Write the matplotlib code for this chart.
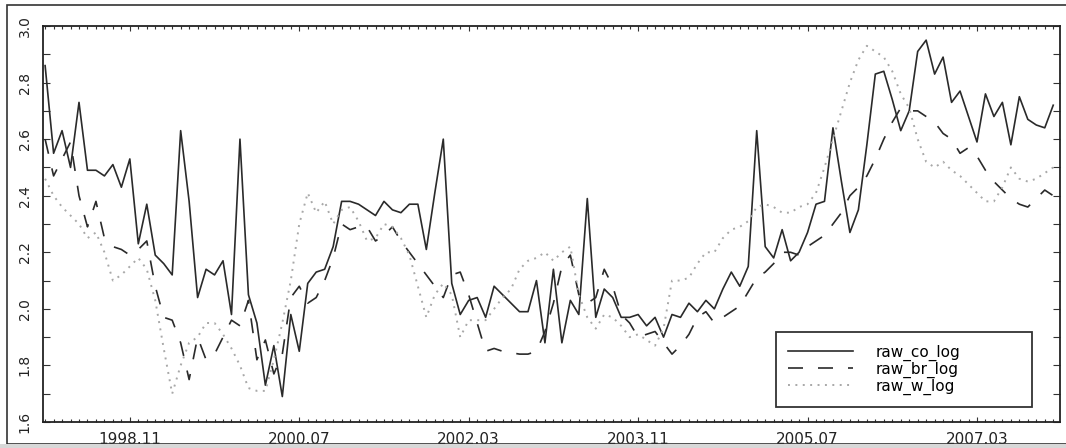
import numpy as np
import matplotlib
matplotlib.use("Agg")
import matplotlib.pyplot as plt
from matplotlib.ticker import MultipleLocator, FixedLocator
from matplotlib.patches import Rectangle

# monthly series, 1998.01 .. 2007.12
raw_co_log = [
    2.86, 2.55, 2.63, 2.50, 2.73, 2.49, 2.49, 2.47, 2.51, 2.43,
    2.53, 2.23, 2.37, 2.19, 2.16, 2.12, 2.63, 2.38, 2.04, 2.14,
    2.12, 2.17, 1.98, 2.60, 2.05, 1.95, 1.73, 1.87, 1.69, 1.98,
    1.85, 2.09, 2.13, 2.14, 2.22, 2.38, 2.38, 2.37, 2.35, 2.33,
    2.38, 2.35, 2.34, 2.37, 2.37, 2.21, 2.41, 2.60, 2.09, 1.98,
    2.03, 2.04, 1.97, 2.08, 2.05, 2.02, 1.99, 1.99, 2.10, 1.88,
    2.14, 1.88, 2.03, 1.98, 2.39, 1.97, 2.07, 2.04, 1.97, 1.97,
    1.98, 1.94, 1.97, 1.90, 1.98, 1.97, 2.02, 1.99, 2.03, 2.00,
    2.07, 2.13, 2.08, 2.15, 2.63, 2.22, 2.18, 2.28, 2.17, 2.20,
    2.27, 2.37, 2.38, 2.64, 2.45, 2.27, 2.35, 2.58, 2.83, 2.84,
    2.74, 2.63, 2.70, 2.91, 2.95, 2.83, 2.89, 2.73, 2.77, 2.68,
    2.59, 2.76, 2.68, 2.73, 2.58, 2.75, 2.67, 2.65, 2.64, 2.72,
]
raw_br_log = [
    2.60, 2.47, 2.53, 2.59, 2.40, 2.29, 2.38, 2.25, 2.22, 2.21,
    2.19, 2.21, 2.24, 2.08, 1.97, 1.96, 1.88, 1.75, 1.90, 1.82,
    1.84, 1.90, 1.96, 1.94, 2.03, 1.82, 1.89, 1.77, 1.84, 2.04,
    2.08, 2.02, 2.04, 2.10, 2.18, 2.30, 2.28, 2.29, 2.29, 2.24,
    2.26, 2.29, 2.24, 2.20, 2.16, 2.12, 2.08, 2.04, 2.12, 2.13,
    2.05, 1.95, 1.85, 1.86, 1.85, 1.845, 1.84, 1.84, 1.85, 1.92,
    2.02, 2.15, 2.19, 2.05, 2.02, 2.04, 2.14, 2.08, 1.98, 1.95,
    1.90, 1.91, 1.92, 1.88, 1.84, 1.87, 1.91, 1.97, 1.99, 1.95,
    1.97, 1.99, 2.01, 2.06, 2.11, 2.13, 2.16, 2.20, 2.20, 2.19,
    2.22, 2.24, 2.26, 2.30, 2.34, 2.40, 2.43, 2.47, 2.53, 2.60,
    2.66, 2.71, 2.70, 2.70, 2.68, 2.66, 2.62, 2.60, 2.55, 2.57,
    2.54, 2.49, 2.45, 2.42, 2.39, 2.37, 2.36, 2.39, 2.42, 2.40,
]
raw_w_log = [
    2.46, 2.40, 2.36, 2.33, 2.30, 2.25, 2.27, 2.20, 2.10, 2.12,
    2.15, 2.18, 2.14, 2.03, 1.86, 1.70, 1.80, 1.88, 1.90, 1.95,
    1.95, 1.91, 1.86, 1.80, 1.72, 1.71, 1.71, 1.82, 1.95, 2.10,
    2.30, 2.41, 2.34, 2.38, 2.30, 2.35, 2.36, 2.31, 2.24, 2.25,
    2.30, 2.29, 2.25, 2.19, 2.08, 1.97, 2.05, 2.09, 2.05, 1.90,
    1.96, 1.96, 1.96, 2.00, 2.04, 2.07, 2.14, 2.17, 2.18, 2.20,
    2.17, 2.20, 2.22, 2.05, 1.97, 1.93, 1.98, 1.97, 1.94, 1.90,
    1.91, 1.89, 1.87, 1.93, 2.10, 2.10, 2.11, 2.16, 2.20, 2.20,
    2.25, 2.28, 2.29, 2.31, 2.36, 2.37, 2.36, 2.34, 2.34, 2.36,
    2.37, 2.41, 2.50, 2.60, 2.70, 2.80, 2.88, 2.93, 2.91, 2.89,
    2.84, 2.76, 2.71, 2.60, 2.52, 2.50, 2.52, 2.49, 2.47, 2.44,
    2.41, 2.38, 2.38, 2.43, 2.50, 2.46, 2.45, 2.46, 2.48, 2.50,
]

tick_months = [10, 30, 50, 70, 90, 110]
tick_labels = ["1998.11", "2000.07", "2002.03", "2003.11", "2005.07", "2007.03"]
y_ticks = [1.6, 1.8, 2.0, 2.2, 2.4, 2.6, 2.8, 3.0]

W, H = 1066, 448
fig = plt.figure(figsize=(W / 100, H / 100), dpi=100)
fig.patch.set_facecolor("white")

# outer frame of the original screenshot
fig.patches.append(Rectangle((7 / W, 1 - 444 / H), 1.0, 439 / H, transform=fig.transFigure,
                             fill=False, edgecolor="#333333", linewidth=1.2))
fig.patches.append(Rectangle((0, 0), 1.0, 4 / H, transform=fig.transFigure,
                             facecolor="#d8d8d8", edgecolor="none"))

ax = fig.add_axes([43 / W, 1 - 422 / H, (1060 - 43) / W, 396 / H])

x = np.arange(len(raw_co_log))
ax.plot(x, raw_co_log, color="#2a2a2a", linewidth=1.2, label="raw_co_log")
ax.plot(x, raw_br_log, color="#2a2a2a", linewidth=1.2, linestyle=(0, (9, 9)),
        label="raw_br_log")
ax.plot(x, raw_w_log, color="#a8a8a8", linewidth=1.4, linestyle=(0, (1, 2.8)),
        label="raw_w_log")

ax.set_xlim(-0.25, 119.8)
ax.set_ylim(1.6, 3.0)

ax.xaxis.set_major_locator(FixedLocator(tick_months))
ax.set_xticklabels(tick_labels, fontsize=11, color="#222222")
ax.xaxis.set_minor_locator(MultipleLocator(1))
ax.set_yticks(y_ticks)
ax.set_yticklabels([f"{v:.1f}" for v in y_ticks], rotation=90, va="center",
                   fontsize=10, color="#222222")
ax.yaxis.set_minor_locator(MultipleLocator(0.1))

ax.tick_params(axis="x", which="both", direction="in", top=True, bottom=True,
               width=0.8, color="#333333")
ax.tick_params(axis="x", which="major", length=3.5, pad=7)
ax.tick_params(axis="x", which="minor", length=2)
ax.tick_params(axis="y", which="both", direction="in", left=True, right=True,
               length=5, width=0.8, color="#333333")
ax.tick_params(axis="y", which="major", pad=8)

for s in ax.spines.values():
    s.set_linewidth(1.3)
    s.set_color("#222222")

leg = ax.legend(loc="lower left", bbox_to_anchor=(0.721, 0.038, 0.251, 0.192),
                mode="expand", fancybox=False, framealpha=1, edgecolor="#333333",
                fontsize=11, handlelength=4.2, handletextpad=1.5,
                labelspacing=0.05, borderpad=0.8, borderaxespad=0)
leg.get_frame().set_linewidth(1.3)

fig.savefig("out.png", dpi=100)
